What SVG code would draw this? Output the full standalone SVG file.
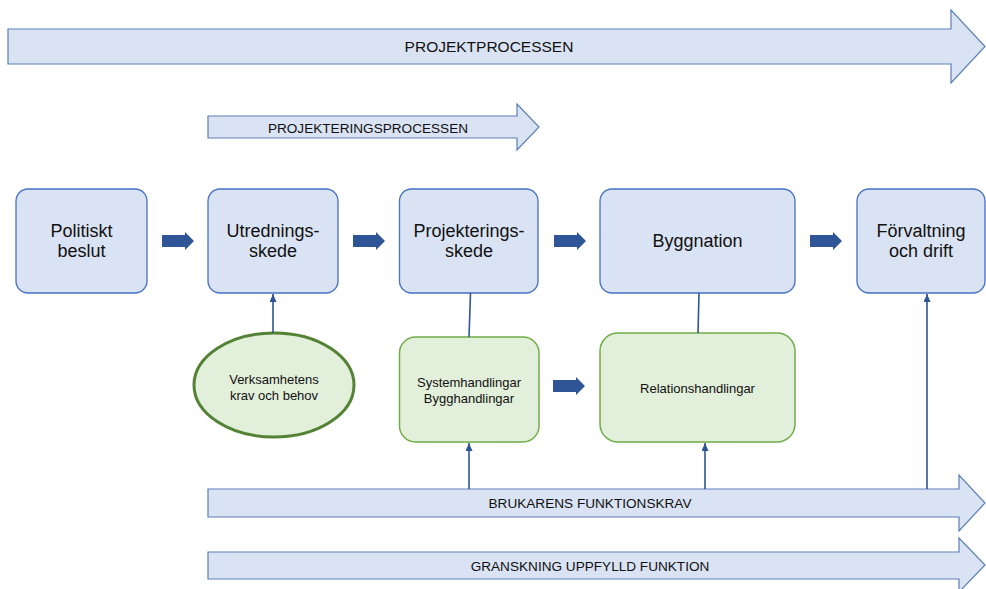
<svg xmlns="http://www.w3.org/2000/svg" width="986" height="589" viewBox="0 0 986 589">
  <style>
    text { font-family: "Liberation Sans", Arial, sans-serif; fill: #111; text-anchor: middle; }
    .phase { fill: #dae3f3; stroke: #4472c4; stroke-width: 1.3; }
    .doc { fill: #e2efda; stroke: #70ad47; stroke-width: 1.5; }
    .band { fill: #dae3f3; stroke: #5b7fb5; stroke-width: 1.2; }
    .step { fill: #2f5597; }
    .link { stroke: #2f5597; stroke-width: 1.6; fill: none; }
    .big { font-size: 18px; }
    .small { font-size: 13px; }
    .band-label { font-size: 13.6px; }
  </style>
  <defs>
    <marker id="head" markerUnits="userSpaceOnUse" markerWidth="8" markerHeight="8" refX="8" refY="3.5" orient="auto">
      <path d="M0,0 L8,3.5 L0,7 Z" fill="#2f5597"/>
    </marker>
    <path id="step-arrow" d="M0,-6 H23 V-9 L32,0 L23,9 V6 H0 Z"/>
  </defs>

  <!-- process bands -->
  <g id="band-projekt">
    <path class="band" d="M8,29 H951 V10 L985,46.5 L951,83 V64 H8 Z"/>
    <text x="489" y="52" style="font-size:15.5px">PROJEKTPROCESSEN</text>
  </g>
  <g id="band-projektering">
    <path class="band" d="M208,116 H517 V104 L539,127 L517,150 V138 H208 Z"/>
    <text x="368" y="132.5" class="band-label">PROJEKTERINGSPROCESSEN</text>
  </g>
  <g id="band-funktionskrav">
    <path class="band" d="M208,489 H959 V475 L985,503 L959,531 V517 H208 Z"/>
    <text x="590" y="508" class="band-label">BRUKARENS FUNKTIONSKRAV</text>
  </g>
  <g id="band-granskning">
    <path class="band" d="M208,552 H959 V538 L985,565 L959,592 V579 H208 Z"/>
    <text x="590" y="570.5" class="band-label">GRANSKNING UPPFYLLD FUNKTION</text>
  </g>

  <!-- phases -->
  <g id="politiskt-beslut">
    <rect class="phase" x="16" y="189" width="131" height="104" rx="12"/>
    <text class="big" x="81.5" y="237">Politiskt</text>
    <text class="big" x="81.5" y="257">beslut</text>
  </g>
  <g id="utredningsskede">
    <rect class="phase" x="208" y="189" width="130" height="104" rx="12"/>
    <text class="big" x="273" y="237">Utrednings-</text>
    <text class="big" x="273" y="257">skede</text>
  </g>
  <g id="projekteringsskede">
    <rect class="phase" x="399.5" y="189" width="138.5" height="104" rx="12"/>
    <text class="big" x="469" y="237">Projekterings-</text>
    <text class="big" x="469" y="257">skede</text>
  </g>
  <g id="byggnation">
    <rect class="phase" x="600" y="189" width="195" height="104" rx="12"/>
    <text class="big" x="697.5" y="247">Byggnation</text>
  </g>
  <g id="forvaltning">
    <rect class="phase" x="857" y="189" width="128" height="104" rx="12"/>
    <text class="big" x="921" y="237">Förvaltning</text>
    <text class="big" x="921" y="257">och drift</text>
  </g>

  <!-- documents and requirements -->
  <g id="verksamhetens-krav">
    <ellipse cx="274" cy="385" rx="80" ry="52" fill="#e2efda" stroke="#548235" stroke-width="3"/>
    <text class="small" x="274" y="384">Verksamhetens</text>
    <text class="small" x="274" y="400">krav och behov</text>
  </g>
  <g id="system-bygghandlingar">
    <rect class="doc" x="399.5" y="337" width="139.5" height="105" rx="16"/>
    <text class="small" x="469" y="387">Systemhandlingar</text>
    <text class="small" x="469" y="403">Bygghandlingar</text>
  </g>
  <g id="relationshandlingar">
    <rect class="doc" x="600" y="333" width="195" height="109" rx="18"/>
    <text class="small" x="697.5" y="393">Relationshandlingar</text>
  </g>

  <!-- connectors -->
  <g id="connectors">
    <use href="#step-arrow" class="step" x="162" y="241"/>
    <use href="#step-arrow" class="step" x="353" y="241"/>
    <use href="#step-arrow" class="step" x="554" y="241"/>
    <use href="#step-arrow" class="step" x="810" y="241"/>
    <use href="#step-arrow" class="step" x="553" y="386"/>

    <line class="link" x1="273" y1="333" x2="273" y2="294" marker-end="url(#head)"/>
    <line class="link" x1="470.5" y1="293" x2="469" y2="337"/>
    <line class="link" x1="699" y1="293" x2="698" y2="333"/>
    <line class="link" x1="469" y1="489" x2="469" y2="443" marker-end="url(#head)"/>
    <line class="link" x1="705" y1="489" x2="705" y2="443" marker-end="url(#head)"/>
    <line class="link" x1="927" y1="489" x2="927" y2="294" marker-end="url(#head)"/>
  </g>
</svg>
